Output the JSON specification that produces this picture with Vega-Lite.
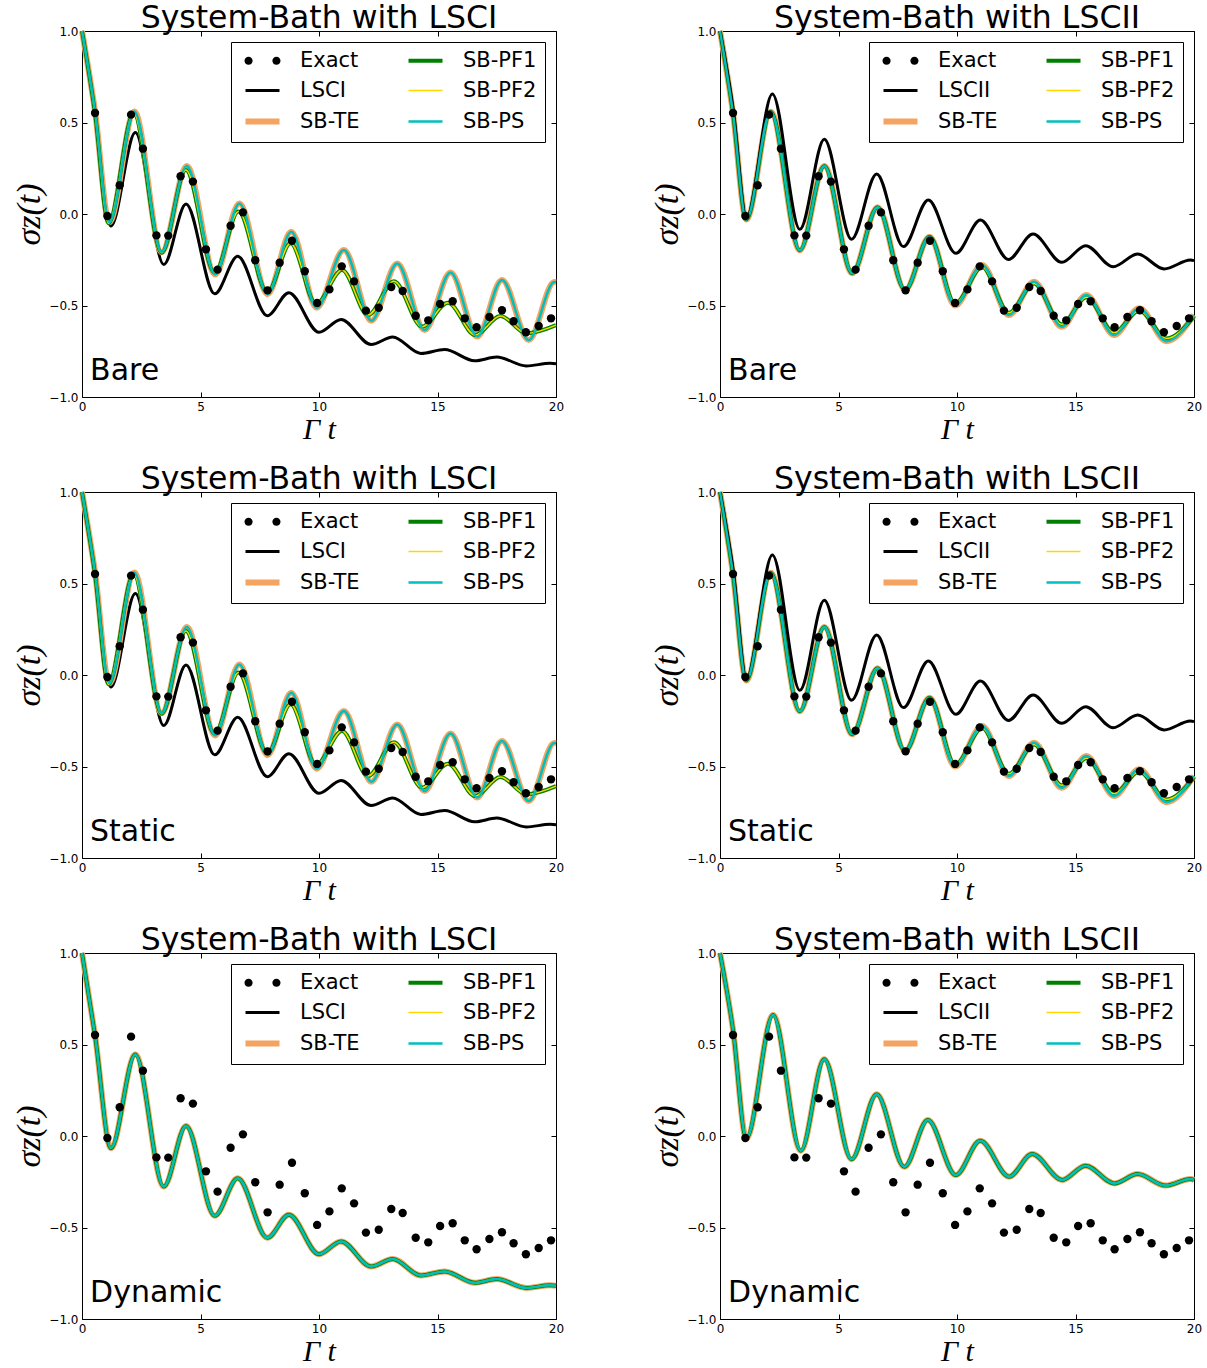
{
  "$schema": "https://vega.github.io/schema/vega-lite/v6.json",
  "background": "white",
  "padding": {"left": 12, "top": 2, "right": 0, "bottom": 0},
  "datasets": {
    "curves": [
      {"k":"L1","t":0,"y":1.0},{"k":"L1","t":0.55,"y":0.55},{"k":"L1","t":1.22,"y":-0.066},{"k":"L1","t":2.25,"y":0.445},{"k":"L1","t":3.45,"y":-0.276},{"k":"L1","t":4.39,"y":0.055},{"k":"L1","t":5.6,"y":-0.436},{"k":"L1","t":6.57,"y":-0.231},{"k":"L1","t":7.82,"y":-0.556},{"k":"L1","t":8.73,"y":-0.43},{"k":"L1","t":10.0,"y":-0.646},{"k":"L1","t":10.93,"y":-0.576},{"k":"L1","t":12.2,"y":-0.713},{"k":"L1","t":13.11,"y":-0.672},{"k":"L1","t":14.3,"y":-0.762},{"k":"L1","t":15.3,"y":-0.74},{"k":"L1","t":16.57,"y":-0.802},{"k":"L1","t":17.5,"y":-0.782},{"k":"L1","t":18.75,"y":-0.83},{"k":"L1","t":19.75,"y":-0.816},{"k":"L1","t":20,"y":-0.818},
      {"k":"E1","t":0,"y":1.0},{"k":"E1","t":0.55,"y":0.56},{"k":"E1","t":1.15,"y":-0.045},{"k":"E1","t":2.21,"y":0.56},{"k":"E1","t":3.36,"y":-0.208},{"k":"E1","t":4.42,"y":0.262},{"k":"E1","t":5.62,"y":-0.33},{"k":"E1","t":6.64,"y":0.058},{"k":"E1","t":7.83,"y":-0.438},{"k":"E1","t":8.83,"y":-0.097},{"k":"E1","t":9.9,"y":-0.512},{"k":"E1","t":11.05,"y":-0.197},{"k":"E1","t":12.21,"y":-0.583},{"k":"E1","t":13.3,"y":-0.27},{"k":"E1","t":14.46,"y":-0.634},{"k":"E1","t":15.55,"y":-0.32},{"k":"E1","t":16.68,"y":-0.67},{"k":"E1","t":17.72,"y":-0.36},{"k":"E1","t":18.85,"y":-0.689},{"k":"E1","t":19.93,"y":-0.372},{"k":"E1","t":20,"y":-0.373},
      {"k":"E2","t":0,"y":1.0},{"k":"E2","t":0.55,"y":0.55},{"k":"E2","t":1.12,"y":-0.05},{"k":"E2","t":2.18,"y":0.55},{"k":"E2","t":3.36,"y":-0.212},{"k":"E2","t":4.38,"y":0.24},{"k":"E2","t":5.6,"y":-0.322},{"k":"E2","t":6.6,"y":0.013},{"k":"E2","t":7.82,"y":-0.428},{"k":"E2","t":8.8,"y":-0.16},{"k":"E2","t":9.88,"y":-0.492},{"k":"E2","t":10.97,"y":-0.306},{"k":"E2","t":12.07,"y":-0.552},{"k":"E2","t":13.16,"y":-0.368},{"k":"E2","t":14.35,"y":-0.616},{"k":"E2","t":15.44,"y":-0.485},{"k":"E2","t":16.59,"y":-0.661},{"k":"E2","t":17.66,"y":-0.557},{"k":"E2","t":18.75,"y":-0.652},{"k":"E2","t":20,"y":-0.607},
      {"k":"F2","t":0,"y":1.0},{"k":"F2","t":0.55,"y":0.55},{"k":"F2","t":1.11,"y":-0.03},{"k":"F2","t":2.14,"y":0.559},{"k":"F2","t":3.37,"y":-0.198},{"k":"F2","t":4.4,"y":0.262},{"k":"F2","t":5.58,"y":-0.324},{"k":"F2","t":6.65,"y":0.037},{"k":"F2","t":7.81,"y":-0.415},{"k":"F2","t":8.84,"y":-0.124},{"k":"F2","t":9.92,"y":-0.5},{"k":"F2","t":11.06,"y":-0.279},{"k":"F2","t":12.19,"y":-0.552},{"k":"F2","t":13.25,"y":-0.37},{"k":"F2","t":14.42,"y":-0.616},{"k":"F2","t":15.46,"y":-0.443},{"k":"F2","t":16.63,"y":-0.661},{"k":"F2","t":17.69,"y":-0.515},{"k":"F2","t":18.84,"y":-0.695},{"k":"F2","t":20,"y":-0.552},
      {"k":"F2g","t":0,"y":1.0},{"k":"F2g","t":0.55,"y":0.55},{"k":"F2g","t":1.11,"y":-0.03},{"k":"F2g","t":2.14,"y":0.559},{"k":"F2g","t":3.37,"y":-0.198},{"k":"F2g","t":4.4,"y":0.262},{"k":"F2g","t":5.58,"y":-0.324},{"k":"F2g","t":6.65,"y":0.037},{"k":"F2g","t":7.81,"y":-0.415},{"k":"F2g","t":8.84,"y":-0.124},{"k":"F2g","t":9.92,"y":-0.49},{"k":"F2g","t":11.06,"y":-0.29},{"k":"F2g","t":12.19,"y":-0.54},{"k":"F2g","t":13.25,"y":-0.38},{"k":"F2g","t":14.42,"y":-0.603},{"k":"F2g","t":15.46,"y":-0.455},{"k":"F2g","t":16.63,"y":-0.648},{"k":"F2g","t":17.69,"y":-0.527},{"k":"F2g","t":18.84,"y":-0.68},{"k":"F2g","t":20,"y":-0.56},
      {"k":"L2","t":0,"y":1.0},{"k":"L2","t":0.55,"y":0.58},{"k":"L2","t":1.12,"y":-0.02},{"k":"L2","t":2.21,"y":0.656},{"k":"L2","t":3.37,"y":-0.084},{"k":"L2","t":4.4,"y":0.408},{"k":"L2","t":5.55,"y":-0.138},{"k":"L2","t":6.61,"y":0.219},{"k":"L2","t":7.74,"y":-0.178},{"k":"L2","t":8.79,"y":0.077},{"k":"L2","t":9.95,"y":-0.215},{"k":"L2","t":10.99,"y":-0.033},{"k":"L2","t":12.17,"y":-0.248},{"k":"L2","t":13.21,"y":-0.109},{"k":"L2","t":14.42,"y":-0.264},{"k":"L2","t":15.43,"y":-0.173},{"k":"L2","t":16.59,"y":-0.288},{"k":"L2","t":17.62,"y":-0.219},{"k":"L2","t":18.74,"y":-0.3},{"k":"L2","t":19.85,"y":-0.252},{"k":"L2","t":20,"y":-0.255},
      {"k":"D2","t":0,"y":1.0},{"k":"D2","t":0.55,"y":0.58},{"k":"D2","t":1.11,"y":-0.013},{"k":"D2","t":2.24,"y":0.661},{"k":"D2","t":3.41,"y":-0.08},{"k":"D2","t":4.4,"y":0.419},{"k":"D2","t":5.55,"y":-0.127},{"k":"D2","t":6.61,"y":0.228},{"k":"D2","t":7.78,"y":-0.168},{"k":"D2","t":8.77,"y":0.087},{"k":"D2","t":9.95,"y":-0.213},{"k":"D2","t":10.98,"y":-0.026},{"k":"D2","t":12.2,"y":-0.222},{"k":"D2","t":13.17,"y":-0.098},{"k":"D2","t":14.44,"y":-0.24},{"k":"D2","t":15.42,"y":-0.162},{"k":"D2","t":16.64,"y":-0.259},{"k":"D2","t":17.62,"y":-0.208},{"k":"D2","t":18.8,"y":-0.271},{"k":"D2","t":19.85,"y":-0.235},{"k":"D2","t":20,"y":-0.24}
    ],
    "exact": [
      {"s":"Exact","t":0.55,"y":0.552},{"s":"Exact","t":1.07,"y":-0.011},{"s":"Exact","t":1.59,"y":0.157},{"s":"Exact","t":2.07,"y":0.543},{"s":"Exact","t":2.57,"y":0.357},{"s":"Exact","t":3.14,"y":-0.117},{"s":"Exact","t":3.64,"y":-0.118},{"s":"Exact","t":4.16,"y":0.206},{"s":"Exact","t":4.68,"y":0.177},{"s":"Exact","t":5.23,"y":-0.193},{"s":"Exact","t":5.72,"y":-0.304},{"s":"Exact","t":6.27,"y":-0.064},{"s":"Exact","t":6.79,"y":0.009},{"s":"Exact","t":7.31,"y":-0.253},{"s":"Exact","t":7.83,"y":-0.417},{"s":"Exact","t":8.34,"y":-0.266},{"s":"Exact","t":8.86,"y":-0.146},{"s":"Exact","t":9.4,"y":-0.313},{"s":"Exact","t":9.92,"y":-0.486},{"s":"Exact","t":10.44,"y":-0.412},{"s":"Exact","t":10.96,"y":-0.286},{"s":"Exact","t":11.48,"y":-0.368},{"s":"Exact","t":11.98,"y":-0.528},{"s":"Exact","t":12.52,"y":-0.512},{"s":"Exact","t":13.05,"y":-0.399},{"s":"Exact","t":13.53,"y":-0.421},{"s":"Exact","t":14.08,"y":-0.556},{"s":"Exact","t":14.61,"y":-0.581},{"s":"Exact","t":15.11,"y":-0.492},{"s":"Exact","t":15.64,"y":-0.477},{"s":"Exact","t":16.15,"y":-0.57},{"s":"Exact","t":16.65,"y":-0.619},{"s":"Exact","t":17.19,"y":-0.563},{"s":"Exact","t":17.72,"y":-0.526},{"s":"Exact","t":18.21,"y":-0.586},{"s":"Exact","t":18.73,"y":-0.646},{"s":"Exact","t":19.27,"y":-0.612},{"s":"Exact","t":19.79,"y":-0.57}
    ],
    "mapI": [{"k":"L1","s":["LSCI"]},{"k":"E1","s":["SB-TE","SB-PS"]},{"k":"E2","s":["SB-PF1","SB-PF2"]}],
    "mapII": [{"k":"L2","s":["LSCII"]},{"k":"F2","s":["SB-TE","SB-PS"]},{"k":"F2g","s":["SB-PF1","SB-PF2"]}],
    "mapDI": [{"k":"L1","s":["LSCI","SB-TE","SB-PF1","SB-PF2","SB-PS"]}],
    "mapDII": [{"k":"D2","s":["LSCII","SB-TE","SB-PF1","SB-PF2","SB-PS"]}]
  },
  "columns": 2,
  "spacing": {"row": 18, "column": 81},
  "resolve": {"scale": {"color": "independent", "strokeWidth": "independent"}, "legend": {"color": "independent"}},
  "concat": [
    {
      "title": "System-Bath with LSCI", "width": 474, "height": 366,
      "resolve": {"axis": {"x": "independent", "y": "independent"}},
      "layer": [
        {"data": {"name": "curves"},
         "transform": [{"lookup": "k", "from": {"data": {"name": "mapI"}, "key": "k", "fields": ["s"]}}, {"filter": "isValid(datum.s)"}, {"flatten": ["s"]}, {"filter": "datum.s !== 'SB-PS'"}],
         "mark": {"type": "line", "interpolate": "monotone"},
         "encoding": {
           "x": {"field": "t", "type": "quantitative", "scale": {"domain": [0, 20], "nice": false}, "axis": {"values": [0, 5, 10, 15, 20], "format": "d", "title": "Γ t", "titleFontSize": 30}},
           "y": {"field": "y", "type": "quantitative", "scale": {"domain": [-1, 1], "nice": false}, "axis": {"values": [-1, -0.5, 0, 0.5, 1], "format": ".1f", "title": "σz(t)", "titleFontSize": 34}},
           "color": {"field": "s", "type": "nominal", "scale": {"domain": ["Exact","LSCI","SB-TE","SB-PF1","SB-PF2","SB-PS"], "range": ["black","black","#f4a460","#008000","#ffd700","#00bfbf"]},
             "legend": {"title": null, "orient": "top-right", "offset": 11, "columns": 2, "columnPadding": 40, "rowPadding": 8, "padding": 8, "symbolOffset": 13, "fillColor": "white", "strokeColor": "black", "cornerRadius": 0, "labelFontSize": 21, "labelFont": "DejaVu Sans", "labelColor": "black", "labelOffset": 27, "labelLimit": 300, "symbolSize": 1156, "symbolType": "stroke",
               "encode": {"symbols": {"update": {
                 "shape": {"signal": "datum.value==='Exact'?'M-1.06,0a0.24,0.24 0 1,0 0.48,0a0.24,0.24 0 1,0 -0.48,0M0.58,0a0.24,0.24 0 1,0 0.48,0a0.24,0.24 0 1,0 -0.48,0':'stroke'"},
                 "fill": {"signal": "datum.value==='Exact'?'black':'transparent'"},
                 "stroke": {"signal": "datum.value==='SB-TE'?'#f4a460':datum.value==='SB-PF1'?'#008000':datum.value==='SB-PF2'?'#ffd700':datum.value==='SB-PS'?'#00bfbf':'black'"},
                 "strokeWidth": {"signal": "datum.value==='Exact'?0:datum.value==='SB-TE'?6:datum.value==='SB-PF1'?4:datum.value==='SB-PF2'?1.5:datum.value==='SB-PS'?2.5:3"},
                 "opacity": {"value": 1}}}}}},
           "strokeWidth": {"field": "s", "type": "nominal", "scale": {"type": "ordinal", "domain": ["Exact","LSCI","SB-TE","SB-PF1","SB-PF2","SB-PS"], "range": [0, 3, 6, 4, 1.5, 2.5]}, "legend": null}
         }},
        {"data": {"name": "curves"},
         "transform": [{"lookup": "k", "from": {"data": {"name": "mapI"}, "key": "k", "fields": ["s"]}}, {"filter": "isValid(datum.s)"}, {"flatten": ["s"]}, {"filter": "datum.s === 'SB-PS'"}],
         "mark": {"type": "line", "interpolate": "monotone"},
         "encoding": {
           "x": {"field": "t", "type": "quantitative", "axis": null},
           "y": {"field": "y", "type": "quantitative", "axis": null},
           "color": {"field": "s", "type": "nominal"},
           "strokeWidth": {"field": "s", "type": "nominal", "legend": null}
         }},
        {"data": {"name": "exact"},
         "mark": {"type": "circle", "size": 70, "opacity": 1},
         "encoding": {
           "x": {"field": "t", "type": "quantitative", "axis": null},
           "y": {"field": "y", "type": "quantitative", "axis": null},
           "color": {"field": "s", "type": "nominal"}
         }},
        {"data": {"values": [{"label": "Bare", "t": 0.34, "y": -0.907}]},
         "mark": {"type": "text", "align": "left", "baseline": "alphabetic", "fontSize": 30, "font": "DejaVu Sans", "color": "black"},
         "encoding": {
           "x": {"field": "t", "type": "quantitative", "axis": {"orient": "top", "values": [0, 5, 10, 15, 20], "labels": false, "title": null}},
           "y": {"field": "y", "type": "quantitative", "axis": {"orient": "right", "values": [-1, -0.5, 0, 0.5, 1], "labels": false, "title": null}},
           "text": {"field": "label"}
         }}
      ]
    },
    {
      "title": "System-Bath with LSCII", "width": 474, "height": 366,
      "resolve": {"axis": {"x": "independent", "y": "independent"}},
      "layer": [
        {"data": {"name": "curves"},
         "transform": [{"lookup": "k", "from": {"data": {"name": "mapII"}, "key": "k", "fields": ["s"]}}, {"filter": "isValid(datum.s)"}, {"flatten": ["s"]}, {"filter": "datum.s !== 'SB-PS'"}],
         "mark": {"type": "line", "interpolate": "monotone"},
         "encoding": {
           "x": {"field": "t", "type": "quantitative", "scale": {"domain": [0, 20], "nice": false}, "axis": {"values": [0, 5, 10, 15, 20], "format": "d", "title": "Γ t", "titleFontSize": 30}},
           "y": {"field": "y", "type": "quantitative", "scale": {"domain": [-1, 1], "nice": false}, "axis": {"values": [-1, -0.5, 0, 0.5, 1], "format": ".1f", "title": "σz(t)", "titleFontSize": 34}},
           "color": {"field": "s", "type": "nominal", "scale": {"domain": ["Exact","LSCII","SB-TE","SB-PF1","SB-PF2","SB-PS"], "range": ["black","black","#f4a460","#008000","#ffd700","#00bfbf"]},
             "legend": {"title": null, "orient": "top-right", "offset": 11, "columns": 2, "columnPadding": 40, "rowPadding": 8, "padding": 8, "symbolOffset": 13, "fillColor": "white", "strokeColor": "black", "cornerRadius": 0, "labelFontSize": 21, "labelFont": "DejaVu Sans", "labelColor": "black", "labelOffset": 27, "labelLimit": 300, "symbolSize": 1156, "symbolType": "stroke",
               "encode": {"symbols": {"update": {
                 "shape": {"signal": "datum.value==='Exact'?'M-1.06,0a0.24,0.24 0 1,0 0.48,0a0.24,0.24 0 1,0 -0.48,0M0.58,0a0.24,0.24 0 1,0 0.48,0a0.24,0.24 0 1,0 -0.48,0':'stroke'"},
                 "fill": {"signal": "datum.value==='Exact'?'black':'transparent'"},
                 "stroke": {"signal": "datum.value==='SB-TE'?'#f4a460':datum.value==='SB-PF1'?'#008000':datum.value==='SB-PF2'?'#ffd700':datum.value==='SB-PS'?'#00bfbf':'black'"},
                 "strokeWidth": {"signal": "datum.value==='Exact'?0:datum.value==='SB-TE'?6:datum.value==='SB-PF1'?4:datum.value==='SB-PF2'?1.5:datum.value==='SB-PS'?2.5:3"},
                 "opacity": {"value": 1}}}}}},
           "strokeWidth": {"field": "s", "type": "nominal", "scale": {"type": "ordinal", "domain": ["Exact","LSCII","SB-TE","SB-PF1","SB-PF2","SB-PS"], "range": [0, 3, 6, 4, 1.5, 2.5]}, "legend": null}
         }},
        {"data": {"name": "curves"},
         "transform": [{"lookup": "k", "from": {"data": {"name": "mapII"}, "key": "k", "fields": ["s"]}}, {"filter": "isValid(datum.s)"}, {"flatten": ["s"]}, {"filter": "datum.s === 'SB-PS'"}],
         "mark": {"type": "line", "interpolate": "monotone"},
         "encoding": {
           "x": {"field": "t", "type": "quantitative", "axis": null},
           "y": {"field": "y", "type": "quantitative", "axis": null},
           "color": {"field": "s", "type": "nominal"},
           "strokeWidth": {"field": "s", "type": "nominal", "legend": null}
         }},
        {"data": {"name": "exact"},
         "mark": {"type": "circle", "size": 70, "opacity": 1},
         "encoding": {
           "x": {"field": "t", "type": "quantitative", "axis": null},
           "y": {"field": "y", "type": "quantitative", "axis": null},
           "color": {"field": "s", "type": "nominal"}
         }},
        {"data": {"values": [{"label": "Bare", "t": 0.34, "y": -0.907}]},
         "mark": {"type": "text", "align": "left", "baseline": "alphabetic", "fontSize": 30, "font": "DejaVu Sans", "color": "black"},
         "encoding": {
           "x": {"field": "t", "type": "quantitative", "axis": {"orient": "top", "values": [0, 5, 10, 15, 20], "labels": false, "title": null}},
           "y": {"field": "y", "type": "quantitative", "axis": {"orient": "right", "values": [-1, -0.5, 0, 0.5, 1], "labels": false, "title": null}},
           "text": {"field": "label"}
         }}
      ]
    },
    {
      "title": "System-Bath with LSCI", "width": 474, "height": 366,
      "resolve": {"axis": {"x": "independent", "y": "independent"}},
      "layer": [
        {"data": {"name": "curves"},
         "transform": [{"lookup": "k", "from": {"data": {"name": "mapI"}, "key": "k", "fields": ["s"]}}, {"filter": "isValid(datum.s)"}, {"flatten": ["s"]}, {"filter": "datum.s !== 'SB-PS'"}],
         "mark": {"type": "line", "interpolate": "monotone"},
         "encoding": {
           "x": {"field": "t", "type": "quantitative", "scale": {"domain": [0, 20], "nice": false}, "axis": {"values": [0, 5, 10, 15, 20], "format": "d", "title": "Γ t", "titleFontSize": 30}},
           "y": {"field": "y", "type": "quantitative", "scale": {"domain": [-1, 1], "nice": false}, "axis": {"values": [-1, -0.5, 0, 0.5, 1], "format": ".1f", "title": "σz(t)", "titleFontSize": 34}},
           "color": {"field": "s", "type": "nominal", "scale": {"domain": ["Exact","LSCI","SB-TE","SB-PF1","SB-PF2","SB-PS"], "range": ["black","black","#f4a460","#008000","#ffd700","#00bfbf"]},
             "legend": {"title": null, "orient": "top-right", "offset": 11, "columns": 2, "columnPadding": 40, "rowPadding": 8, "padding": 8, "symbolOffset": 13, "fillColor": "white", "strokeColor": "black", "cornerRadius": 0, "labelFontSize": 21, "labelFont": "DejaVu Sans", "labelColor": "black", "labelOffset": 27, "labelLimit": 300, "symbolSize": 1156, "symbolType": "stroke",
               "encode": {"symbols": {"update": {
                 "shape": {"signal": "datum.value==='Exact'?'M-1.06,0a0.24,0.24 0 1,0 0.48,0a0.24,0.24 0 1,0 -0.48,0M0.58,0a0.24,0.24 0 1,0 0.48,0a0.24,0.24 0 1,0 -0.48,0':'stroke'"},
                 "fill": {"signal": "datum.value==='Exact'?'black':'transparent'"},
                 "stroke": {"signal": "datum.value==='SB-TE'?'#f4a460':datum.value==='SB-PF1'?'#008000':datum.value==='SB-PF2'?'#ffd700':datum.value==='SB-PS'?'#00bfbf':'black'"},
                 "strokeWidth": {"signal": "datum.value==='Exact'?0:datum.value==='SB-TE'?6:datum.value==='SB-PF1'?4:datum.value==='SB-PF2'?1.5:datum.value==='SB-PS'?2.5:3"},
                 "opacity": {"value": 1}}}}}},
           "strokeWidth": {"field": "s", "type": "nominal", "scale": {"type": "ordinal", "domain": ["Exact","LSCI","SB-TE","SB-PF1","SB-PF2","SB-PS"], "range": [0, 3, 6, 4, 1.5, 2.5]}, "legend": null}
         }},
        {"data": {"name": "curves"},
         "transform": [{"lookup": "k", "from": {"data": {"name": "mapI"}, "key": "k", "fields": ["s"]}}, {"filter": "isValid(datum.s)"}, {"flatten": ["s"]}, {"filter": "datum.s === 'SB-PS'"}],
         "mark": {"type": "line", "interpolate": "monotone"},
         "encoding": {
           "x": {"field": "t", "type": "quantitative", "axis": null},
           "y": {"field": "y", "type": "quantitative", "axis": null},
           "color": {"field": "s", "type": "nominal"},
           "strokeWidth": {"field": "s", "type": "nominal", "legend": null}
         }},
        {"data": {"name": "exact"},
         "mark": {"type": "circle", "size": 70, "opacity": 1},
         "encoding": {
           "x": {"field": "t", "type": "quantitative", "axis": null},
           "y": {"field": "y", "type": "quantitative", "axis": null},
           "color": {"field": "s", "type": "nominal"}
         }},
        {"data": {"values": [{"label": "Static", "t": 0.34, "y": -0.907}]},
         "mark": {"type": "text", "align": "left", "baseline": "alphabetic", "fontSize": 30, "font": "DejaVu Sans", "color": "black"},
         "encoding": {
           "x": {"field": "t", "type": "quantitative", "axis": {"orient": "top", "values": [0, 5, 10, 15, 20], "labels": false, "title": null}},
           "y": {"field": "y", "type": "quantitative", "axis": {"orient": "right", "values": [-1, -0.5, 0, 0.5, 1], "labels": false, "title": null}},
           "text": {"field": "label"}
         }}
      ]
    },
    {
      "title": "System-Bath with LSCII", "width": 474, "height": 366,
      "resolve": {"axis": {"x": "independent", "y": "independent"}},
      "layer": [
        {"data": {"name": "curves"},
         "transform": [{"lookup": "k", "from": {"data": {"name": "mapII"}, "key": "k", "fields": ["s"]}}, {"filter": "isValid(datum.s)"}, {"flatten": ["s"]}, {"filter": "datum.s !== 'SB-PS'"}],
         "mark": {"type": "line", "interpolate": "monotone"},
         "encoding": {
           "x": {"field": "t", "type": "quantitative", "scale": {"domain": [0, 20], "nice": false}, "axis": {"values": [0, 5, 10, 15, 20], "format": "d", "title": "Γ t", "titleFontSize": 30}},
           "y": {"field": "y", "type": "quantitative", "scale": {"domain": [-1, 1], "nice": false}, "axis": {"values": [-1, -0.5, 0, 0.5, 1], "format": ".1f", "title": "σz(t)", "titleFontSize": 34}},
           "color": {"field": "s", "type": "nominal", "scale": {"domain": ["Exact","LSCII","SB-TE","SB-PF1","SB-PF2","SB-PS"], "range": ["black","black","#f4a460","#008000","#ffd700","#00bfbf"]},
             "legend": {"title": null, "orient": "top-right", "offset": 11, "columns": 2, "columnPadding": 40, "rowPadding": 8, "padding": 8, "symbolOffset": 13, "fillColor": "white", "strokeColor": "black", "cornerRadius": 0, "labelFontSize": 21, "labelFont": "DejaVu Sans", "labelColor": "black", "labelOffset": 27, "labelLimit": 300, "symbolSize": 1156, "symbolType": "stroke",
               "encode": {"symbols": {"update": {
                 "shape": {"signal": "datum.value==='Exact'?'M-1.06,0a0.24,0.24 0 1,0 0.48,0a0.24,0.24 0 1,0 -0.48,0M0.58,0a0.24,0.24 0 1,0 0.48,0a0.24,0.24 0 1,0 -0.48,0':'stroke'"},
                 "fill": {"signal": "datum.value==='Exact'?'black':'transparent'"},
                 "stroke": {"signal": "datum.value==='SB-TE'?'#f4a460':datum.value==='SB-PF1'?'#008000':datum.value==='SB-PF2'?'#ffd700':datum.value==='SB-PS'?'#00bfbf':'black'"},
                 "strokeWidth": {"signal": "datum.value==='Exact'?0:datum.value==='SB-TE'?6:datum.value==='SB-PF1'?4:datum.value==='SB-PF2'?1.5:datum.value==='SB-PS'?2.5:3"},
                 "opacity": {"value": 1}}}}}},
           "strokeWidth": {"field": "s", "type": "nominal", "scale": {"type": "ordinal", "domain": ["Exact","LSCII","SB-TE","SB-PF1","SB-PF2","SB-PS"], "range": [0, 3, 6, 4, 1.5, 2.5]}, "legend": null}
         }},
        {"data": {"name": "curves"},
         "transform": [{"lookup": "k", "from": {"data": {"name": "mapII"}, "key": "k", "fields": ["s"]}}, {"filter": "isValid(datum.s)"}, {"flatten": ["s"]}, {"filter": "datum.s === 'SB-PS'"}],
         "mark": {"type": "line", "interpolate": "monotone"},
         "encoding": {
           "x": {"field": "t", "type": "quantitative", "axis": null},
           "y": {"field": "y", "type": "quantitative", "axis": null},
           "color": {"field": "s", "type": "nominal"},
           "strokeWidth": {"field": "s", "type": "nominal", "legend": null}
         }},
        {"data": {"name": "exact"},
         "mark": {"type": "circle", "size": 70, "opacity": 1},
         "encoding": {
           "x": {"field": "t", "type": "quantitative", "axis": null},
           "y": {"field": "y", "type": "quantitative", "axis": null},
           "color": {"field": "s", "type": "nominal"}
         }},
        {"data": {"values": [{"label": "Static", "t": 0.34, "y": -0.907}]},
         "mark": {"type": "text", "align": "left", "baseline": "alphabetic", "fontSize": 30, "font": "DejaVu Sans", "color": "black"},
         "encoding": {
           "x": {"field": "t", "type": "quantitative", "axis": {"orient": "top", "values": [0, 5, 10, 15, 20], "labels": false, "title": null}},
           "y": {"field": "y", "type": "quantitative", "axis": {"orient": "right", "values": [-1, -0.5, 0, 0.5, 1], "labels": false, "title": null}},
           "text": {"field": "label"}
         }}
      ]
    },
    {
      "title": "System-Bath with LSCI", "width": 474, "height": 366,
      "resolve": {"axis": {"x": "independent", "y": "independent"}},
      "layer": [
        {"data": {"name": "curves"},
         "transform": [{"lookup": "k", "from": {"data": {"name": "mapDI"}, "key": "k", "fields": ["s"]}}, {"filter": "isValid(datum.s)"}, {"flatten": ["s"]}, {"filter": "datum.s !== 'SB-PS'"}],
         "mark": {"type": "line", "interpolate": "monotone"},
         "encoding": {
           "x": {"field": "t", "type": "quantitative", "scale": {"domain": [0, 20], "nice": false}, "axis": {"values": [0, 5, 10, 15, 20], "format": "d", "title": "Γ t", "titleFontSize": 30}},
           "y": {"field": "y", "type": "quantitative", "scale": {"domain": [-1, 1], "nice": false}, "axis": {"values": [-1, -0.5, 0, 0.5, 1], "format": ".1f", "title": "σz(t)", "titleFontSize": 34}},
           "color": {"field": "s", "type": "nominal", "scale": {"domain": ["Exact","LSCI","SB-TE","SB-PF1","SB-PF2","SB-PS"], "range": ["black","black","#f4a460","#008000","#ffd700","#00bfbf"]},
             "legend": {"title": null, "orient": "top-right", "offset": 11, "columns": 2, "columnPadding": 40, "rowPadding": 8, "padding": 8, "symbolOffset": 13, "fillColor": "white", "strokeColor": "black", "cornerRadius": 0, "labelFontSize": 21, "labelFont": "DejaVu Sans", "labelColor": "black", "labelOffset": 27, "labelLimit": 300, "symbolSize": 1156, "symbolType": "stroke",
               "encode": {"symbols": {"update": {
                 "shape": {"signal": "datum.value==='Exact'?'M-1.06,0a0.24,0.24 0 1,0 0.48,0a0.24,0.24 0 1,0 -0.48,0M0.58,0a0.24,0.24 0 1,0 0.48,0a0.24,0.24 0 1,0 -0.48,0':'stroke'"},
                 "fill": {"signal": "datum.value==='Exact'?'black':'transparent'"},
                 "stroke": {"signal": "datum.value==='SB-TE'?'#f4a460':datum.value==='SB-PF1'?'#008000':datum.value==='SB-PF2'?'#ffd700':datum.value==='SB-PS'?'#00bfbf':'black'"},
                 "strokeWidth": {"signal": "datum.value==='Exact'?0:datum.value==='SB-TE'?6:datum.value==='SB-PF1'?4:datum.value==='SB-PF2'?1.5:datum.value==='SB-PS'?2.5:3"},
                 "opacity": {"value": 1}}}}}},
           "strokeWidth": {"field": "s", "type": "nominal", "scale": {"type": "ordinal", "domain": ["Exact","LSCI","SB-TE","SB-PF1","SB-PF2","SB-PS"], "range": [0, 3, 6, 4, 1.5, 2.5]}, "legend": null}
         }},
        {"data": {"name": "curves"},
         "transform": [{"lookup": "k", "from": {"data": {"name": "mapDI"}, "key": "k", "fields": ["s"]}}, {"filter": "isValid(datum.s)"}, {"flatten": ["s"]}, {"filter": "datum.s === 'SB-PS'"}],
         "mark": {"type": "line", "interpolate": "monotone"},
         "encoding": {
           "x": {"field": "t", "type": "quantitative", "axis": null},
           "y": {"field": "y", "type": "quantitative", "axis": null},
           "color": {"field": "s", "type": "nominal"},
           "strokeWidth": {"field": "s", "type": "nominal", "legend": null}
         }},
        {"data": {"name": "exact"},
         "mark": {"type": "circle", "size": 70, "opacity": 1},
         "encoding": {
           "x": {"field": "t", "type": "quantitative", "axis": null},
           "y": {"field": "y", "type": "quantitative", "axis": null},
           "color": {"field": "s", "type": "nominal"}
         }},
        {"data": {"values": [{"label": "Dynamic", "t": 0.34, "y": -0.907}]},
         "mark": {"type": "text", "align": "left", "baseline": "alphabetic", "fontSize": 30, "font": "DejaVu Sans", "color": "black"},
         "encoding": {
           "x": {"field": "t", "type": "quantitative", "axis": {"orient": "top", "values": [0, 5, 10, 15, 20], "labels": false, "title": null}},
           "y": {"field": "y", "type": "quantitative", "axis": {"orient": "right", "values": [-1, -0.5, 0, 0.5, 1], "labels": false, "title": null}},
           "text": {"field": "label"}
         }}
      ]
    },
    {
      "title": "System-Bath with LSCII", "width": 474, "height": 366,
      "resolve": {"axis": {"x": "independent", "y": "independent"}},
      "layer": [
        {"data": {"name": "curves"},
         "transform": [{"lookup": "k", "from": {"data": {"name": "mapDII"}, "key": "k", "fields": ["s"]}}, {"filter": "isValid(datum.s)"}, {"flatten": ["s"]}, {"filter": "datum.s !== 'SB-PS'"}],
         "mark": {"type": "line", "interpolate": "monotone"},
         "encoding": {
           "x": {"field": "t", "type": "quantitative", "scale": {"domain": [0, 20], "nice": false}, "axis": {"values": [0, 5, 10, 15, 20], "format": "d", "title": "Γ t", "titleFontSize": 30}},
           "y": {"field": "y", "type": "quantitative", "scale": {"domain": [-1, 1], "nice": false}, "axis": {"values": [-1, -0.5, 0, 0.5, 1], "format": ".1f", "title": "σz(t)", "titleFontSize": 34}},
           "color": {"field": "s", "type": "nominal", "scale": {"domain": ["Exact","LSCII","SB-TE","SB-PF1","SB-PF2","SB-PS"], "range": ["black","black","#f4a460","#008000","#ffd700","#00bfbf"]},
             "legend": {"title": null, "orient": "top-right", "offset": 11, "columns": 2, "columnPadding": 40, "rowPadding": 8, "padding": 8, "symbolOffset": 13, "fillColor": "white", "strokeColor": "black", "cornerRadius": 0, "labelFontSize": 21, "labelFont": "DejaVu Sans", "labelColor": "black", "labelOffset": 27, "labelLimit": 300, "symbolSize": 1156, "symbolType": "stroke",
               "encode": {"symbols": {"update": {
                 "shape": {"signal": "datum.value==='Exact'?'M-1.06,0a0.24,0.24 0 1,0 0.48,0a0.24,0.24 0 1,0 -0.48,0M0.58,0a0.24,0.24 0 1,0 0.48,0a0.24,0.24 0 1,0 -0.48,0':'stroke'"},
                 "fill": {"signal": "datum.value==='Exact'?'black':'transparent'"},
                 "stroke": {"signal": "datum.value==='SB-TE'?'#f4a460':datum.value==='SB-PF1'?'#008000':datum.value==='SB-PF2'?'#ffd700':datum.value==='SB-PS'?'#00bfbf':'black'"},
                 "strokeWidth": {"signal": "datum.value==='Exact'?0:datum.value==='SB-TE'?6:datum.value==='SB-PF1'?4:datum.value==='SB-PF2'?1.5:datum.value==='SB-PS'?2.5:3"},
                 "opacity": {"value": 1}}}}}},
           "strokeWidth": {"field": "s", "type": "nominal", "scale": {"type": "ordinal", "domain": ["Exact","LSCII","SB-TE","SB-PF1","SB-PF2","SB-PS"], "range": [0, 3, 6, 4, 1.5, 2.5]}, "legend": null}
         }},
        {"data": {"name": "curves"},
         "transform": [{"lookup": "k", "from": {"data": {"name": "mapDII"}, "key": "k", "fields": ["s"]}}, {"filter": "isValid(datum.s)"}, {"flatten": ["s"]}, {"filter": "datum.s === 'SB-PS'"}],
         "mark": {"type": "line", "interpolate": "monotone"},
         "encoding": {
           "x": {"field": "t", "type": "quantitative", "axis": null},
           "y": {"field": "y", "type": "quantitative", "axis": null},
           "color": {"field": "s", "type": "nominal"},
           "strokeWidth": {"field": "s", "type": "nominal", "legend": null}
         }},
        {"data": {"name": "exact"},
         "mark": {"type": "circle", "size": 70, "opacity": 1},
         "encoding": {
           "x": {"field": "t", "type": "quantitative", "axis": null},
           "y": {"field": "y", "type": "quantitative", "axis": null},
           "color": {"field": "s", "type": "nominal"}
         }},
        {"data": {"values": [{"label": "Dynamic", "t": 0.34, "y": -0.907}]},
         "mark": {"type": "text", "align": "left", "baseline": "alphabetic", "fontSize": 30, "font": "DejaVu Sans", "color": "black"},
         "encoding": {
           "x": {"field": "t", "type": "quantitative", "axis": {"orient": "top", "values": [0, 5, 10, 15, 20], "labels": false, "title": null}},
           "y": {"field": "y", "type": "quantitative", "axis": {"orient": "right", "values": [-1, -0.5, 0, 0.5, 1], "labels": false, "title": null}},
           "text": {"field": "label"}
         }}
      ]
    }
  ],
  "config": {
    "font": "DejaVu Sans",
    "view": {"stroke": "black", "strokeWidth": 1},
    "axis": {"grid": false, "domain": false, "ticks": true, "tickColor": "black", "tickSize": -5, "tickWidth": 1, "labelFont": "DejaVu Sans", "labelFontSize": 12, "labelColor": "black", "labelPadding": 9, "labelFlush": false, "labelOverlap": false, "titleFont": "Liberation Serif", "titleFontStyle": "italic", "titleFontWeight": "normal", "titleColor": "black", "titlePadding": 2},
    "title": {"font": "DejaVu Sans", "fontSize": 31.5, "fontWeight": "normal", "color": "black", "anchor": "middle", "offset": -15}
  }
}
